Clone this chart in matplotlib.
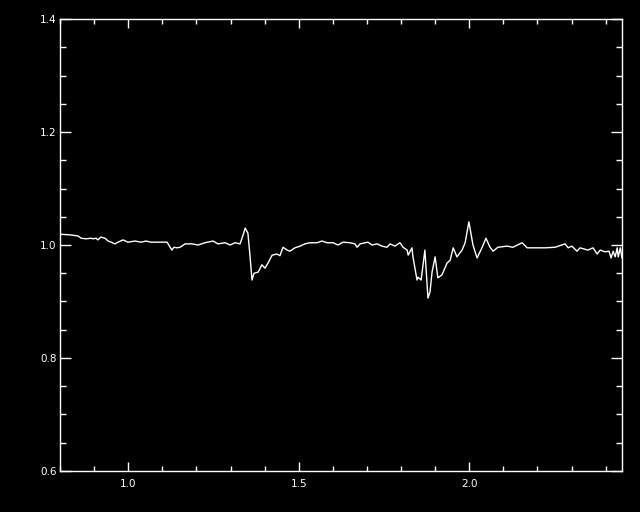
import numpy as np
import matplotlib
matplotlib.use('Agg')
import matplotlib.pyplot as plt
from matplotlib.ticker import MultipleLocator

# Wavelength (x) and normalised flux (y)
wave = [0.800, 0.829, 0.853, 0.862, 0.876, 0.891, 0.897, 0.906, 0.911, 0.920,
        0.932, 0.941, 0.950, 0.961, 0.970, 0.985, 0.999, 1.020, 1.038, 1.052,
        1.067, 1.087, 1.102, 1.114, 1.123, 1.128, 1.134, 1.143, 1.152, 1.167,
        1.187, 1.205, 1.225, 1.249, 1.263, 1.284, 1.299, 1.313, 1.328, 1.337,
        1.343, 1.351, 1.357, 1.363, 1.369, 1.381, 1.392, 1.401, 1.410, 1.422,
        1.436, 1.445, 1.454, 1.466, 1.474, 1.489, 1.504, 1.518, 1.533, 1.554,
        1.568, 1.583, 1.601, 1.615, 1.630, 1.650, 1.665, 1.671, 1.680, 1.703,
        1.715, 1.730, 1.744, 1.759, 1.768, 1.782, 1.797, 1.806, 1.818, 1.821,
        1.832, 1.835, 1.847, 1.850, 1.859, 1.870, 1.879, 1.885, 1.891, 1.900,
        1.908, 1.920, 1.935, 1.944, 1.953, 1.964, 1.979, 1.988, 1.999, 2.011,
        2.023, 2.038, 2.049, 2.061, 2.070, 2.084, 2.111, 2.128, 2.155, 2.170,
        2.193, 2.222, 2.252, 2.281, 2.290, 2.301, 2.316, 2.325, 2.348, 2.363,
        2.375, 2.384, 2.398, 2.410, 2.416, 2.422, 2.428, 2.434, 2.437, 2.443,
        2.448]
flux = [1.019, 1.018, 1.016, 1.012, 1.011, 1.012, 1.011, 1.012, 1.009, 1.014,
        1.012, 1.007, 1.005, 1.002, 1.005, 1.009, 1.005, 1.007, 1.005, 1.007,
        1.005, 1.005, 1.005, 1.005, 0.996, 0.991, 0.996, 0.995, 0.996, 1.002,
        1.002, 1.000, 1.004, 1.007, 1.002, 1.004, 1.000, 1.004, 1.002, 1.018,
        1.030, 1.021, 0.982, 0.938, 0.950, 0.952, 0.965, 0.959, 0.968, 0.982,
        0.984, 0.981, 0.996, 0.991, 0.989, 0.995, 0.998, 1.002, 1.004, 1.004,
        1.007, 1.004, 1.004, 1.000, 1.005, 1.004, 1.002, 0.996, 1.002, 1.005,
        1.000, 1.002, 0.998, 0.996, 1.002, 0.998, 1.004, 0.996, 0.991, 0.982,
        0.995, 0.979, 0.938, 0.943, 0.938, 0.991, 0.906, 0.917, 0.952, 0.979,
        0.942, 0.947, 0.968, 0.973, 0.995, 0.979, 0.991, 1.004, 1.041, 1.000,
        0.977, 0.996, 1.012, 0.996, 0.989, 0.996, 0.998, 0.996, 1.004, 0.995,
        0.995, 0.995, 0.996, 1.002, 0.995, 0.998, 0.989, 0.995, 0.991, 0.995,
        0.984, 0.991, 0.988, 0.989, 0.977, 0.989, 0.979, 0.995, 0.979, 0.995,
        0.977]

fig = plt.figure(figsize=(6.4, 5.12), dpi=100, facecolor='black')
ax = fig.add_axes([60 / 640, 41 / 512, 562 / 640, 452 / 512], facecolor='black')

ax.plot(wave, flux, color='white', lw=1.0)

ax.set_xlim(0.8, 2.448)
ax.set_ylim(0.6, 1.4)

ax.xaxis.set_major_locator(MultipleLocator(0.5))
ax.xaxis.set_minor_locator(MultipleLocator(0.1))
ax.yaxis.set_major_locator(MultipleLocator(0.2))
ax.yaxis.set_minor_locator(MultipleLocator(0.05))
ax.xaxis.set_major_formatter(plt.FormatStrFormatter('%.1f'))
ax.yaxis.set_major_formatter(plt.FormatStrFormatter('%.1f'))

for s in ax.spines.values():
    s.set_color('white')
    s.set_linewidth(1.0)

ax.tick_params(axis='both', which='both', direction='in', colors='white',
               top=True, right=True, width=1.0, labelsize=7.5)
ax.tick_params(axis='x', which='major', length=6.5, pad=6)
ax.tick_params(axis='x', which='minor', length=3.3)
ax.tick_params(axis='y', which='major', length=8, pad=2.5)
ax.tick_params(axis='y', which='minor', length=4)

fig.savefig('out.png', dpi=100, facecolor='black')
